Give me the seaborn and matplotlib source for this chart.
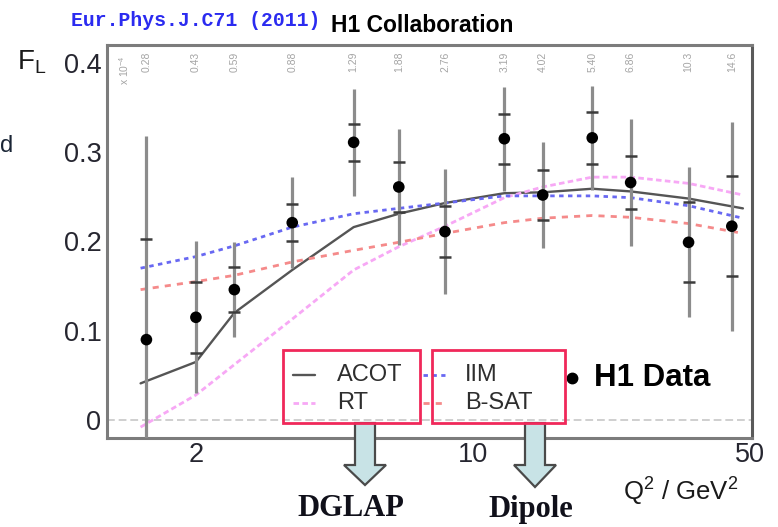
import matplotlib
matplotlib.use("Agg")
import matplotlib.pyplot as plt
import matplotlib.transforms as mtransforms
from matplotlib.patches import Rectangle, Polygon
from matplotlib.lines import Line2D
from matplotlib.ticker import FixedLocator, FixedFormatter, NullFormatter
import pandas as pd
import seaborn as sns

# ---- H1 longitudinal structure function measurement ----
q2 = [1.5, 2, 2.5, 3.5, 5, 6.5, 8.5, 12, 15, 20, 25, 35, 45]
fl = [0.090, 0.115, 0.146, 0.221, 0.311, 0.261, 0.211, 0.315, 0.252, 0.316, 0.266, 0.199, 0.217]
fl_tot = [0.228, 0.085, 0.053, 0.051, 0.060, 0.065, 0.070, 0.058, 0.059, 0.058, 0.071, 0.084, 0.117]
fl_stat = [0.113, 0.040, 0.025, 0.021, 0.021, 0.028, 0.029, 0.028, 0.028, 0.029, 0.030, 0.045, 0.056]
x_values = ["0.28", "0.43", "0.59", "0.88", "1.29", "1.88", "2.76",
            "3.19", "4.02", "5.40", "6.86", "10.3", "14.6"]

# ---- model predictions ----
model_q2 = [1.45, 2, 2.5, 3.5, 5, 6.5, 8.5, 12, 15, 20, 25, 35, 48]
acot = [0.041, 0.065, 0.120, 0.168, 0.216, 0.231, 0.243, 0.254, 0.255, 0.259, 0.256, 0.248, 0.237]
rt = [-0.008, 0.028, 0.062, 0.113, 0.168, 0.194, 0.217, 0.249, 0.261, 0.272, 0.272, 0.265, 0.252]
iim = [0.170, 0.183, 0.195, 0.216, 0.231, 0.237, 0.243, 0.251, 0.251, 0.251, 0.249, 0.240, 0.226]
bsat = [0.146, 0.155, 0.162, 0.177, 0.190, 0.199, 0.209, 0.221, 0.226, 0.229, 0.227, 0.220, 0.209]

x_ticks = [2, 10, 50]
x_minor = [3, 4, 5, 6, 7, 8, 9, 20, 30, 40]
y_ticks = [0, 0.1, 0.2, 0.3, 0.4]
y_tick_labels = ["0", "0.1", "0.2", "0.3", "0.4"]

sns.set_style("white")
plt.rcParams["font.family"] = ["Liberation Sans", "DejaVu Sans"]
plt.rcParams["mathtext.fontset"] = "custom"
plt.rcParams["mathtext.rm"] = "Liberation Sans"
plt.rcParams["mathtext.it"] = "Liberation Sans:italic"
plt.rcParams["mathtext.bf"] = "Liberation Sans:bold"

W, H = 778, 527
fig = plt.figure(figsize=(W / 100, H / 100), dpi=100)


def fx(px):
    return px / W


def fy(py):
    return 1 - py / H


ax = fig.add_axes([fx(107), fy(438), (752 - 107) / W, (438 - 45) / H])
ax.set_xscale("log")
ax.set_xlim(1.193, 50.6)
ax.set_ylim(-0.0202, 0.420)

# zero reference line
ax.axhline(0, color="#cfcfcf", lw=1.4, ls=(0, (4, 2)), zorder=1)

# model curves
models = pd.DataFrame({"q2": model_q2, "ACOT": acot, "RT": rt, "IIM": iim, "B-SAT": bsat})
styles = {
    "ACOT": dict(color="#555555", ls="-", lw=1.7),
    "RT": dict(color="#f7a8f5", ls=(0, (2, 1.2)), lw=2.0),
    "IIM": dict(color="#6868f2", ls=(0, (1.6, 1.6)), lw=2.0),
    "B-SAT": dict(color="#f58a8a", ls=(0, (2.2, 2.2)), lw=2.0),
}
for name, st in styles.items():
    sns.lineplot(data=models, x="q2", y=name, ax=ax, color=st["color"],
                 linestyle=st["ls"], linewidth=st["lw"], estimator=None,
                 sort=False, zorder=3)

# data: total error bars, statistical error ticks, points
ax.errorbar(q2, fl, yerr=fl_tot, fmt="none", ecolor="#8c8c8c", elinewidth=2.3,
            capsize=0, zorder=4)
ax.errorbar(q2, fl, yerr=fl_stat, fmt="none", ecolor="#3c3c3c", elinewidth=0,
            capsize=4.6, capthick=1.8, zorder=5)
sns.scatterplot(x=q2, y=fl, ax=ax, color="black", s=70, edgecolor="none", zorder=6)

# x values along the top of the frame
top = mtransforms.blended_transform_factory(ax.transData, ax.transAxes)
for q, lab in zip(q2, x_values):
    ax.text(q, 0.958, lab, rotation=90, ha="center", va="center",
            fontsize=7.5, color="#a4a4a4", transform=top)
ax.text(1.32, 0.935, r"x 10$^{-4}$", rotation=90, ha="center", va="center",
        fontsize=7.5, color="#a4a4a4", transform=top)

# axes styling
ax.xaxis.set_major_locator(FixedLocator(x_ticks))
ax.xaxis.set_major_formatter(FixedFormatter([str(v) for v in x_ticks]))
ax.xaxis.set_minor_locator(FixedLocator(x_minor))
ax.xaxis.set_minor_formatter(NullFormatter())
ax.yaxis.set_major_locator(FixedLocator(y_ticks))
ax.yaxis.set_major_formatter(FixedFormatter(y_tick_labels))
ax.yaxis.set_minor_locator(FixedLocator([i * 0.02 for i in range(0, 21)]))
ax.tick_params(axis="both", which="both", direction="in", color="#8a8a8a",
               labelcolor="#262630", labelsize=19.5)
ax.tick_params(axis="y", which="major", length=9, width=1.4, pad=4)
ax.tick_params(axis="y", which="minor", length=5, width=1.2)
ax.tick_params(axis="x", which="major", length=8, width=1.4, pad=3)
ax.tick_params(axis="x", which="minor", length=4, width=1.2)
ax.set_xlabel("")
ax.set_ylabel("")
for side, sp in ax.spines.items():
    sp.set_visible(True)
    sp.set_linewidth(2.2)
    sp.set_color("#7c7c7c")
ax.spines["right"].set_color("#5a5a5a")

# headings and axis titles
fig.text(fx(71), fy(20), "Eur.Phys.J.C71 (2011)", family=["Liberation Mono", "DejaVu Sans Mono"],
         fontsize=14.2, fontweight="bold", color="#2b2bf0", ha="left", va="center")
fig.text(fx(331), fy(26), "H1 Collaboration", fontsize=16.5, fontweight="bold",
         color="black", ha="left", va="center")
fig.text(fx(17), fy(62), r"F$_\mathregular{L}$", fontsize=20, color="#1a1a1a",
         ha="left", va="center")
fig.text(fx(0), fy(146), "d", fontsize=17, color="#1a2535", ha="left", va="center")
fig.text(fx(623), fy(492), r"Q$^\mathregular{2}$ / GeV$^\mathregular{2}$", fontsize=18.5,
         color="#1a1a1a", ha="left", va="center")

# legend boxes
box_col = "#f0285a"
for x0, x1 in [(283, 420), (432, 565)]:
    fig.patches.append(Rectangle((fx(x0), fy(423)), fx(x1) - fx(x0), fy(350) - fy(423),
                                 transform=fig.transFigure, fill=False,
                                 edgecolor=box_col, lw=2.0, zorder=10))

legend_rows = [("ACOT", 293, 337, 375), ("RT", 293, 337, 403),
               ("IIM", 423, 465, 375), ("B-SAT", 423, 465, 403)]
for name, lx, tx, ly in legend_rows:
    st = styles[name]
    fig.lines.append(Line2D([fx(lx), fx(lx + 22)], [fy(ly), fy(ly)], transform=fig.transFigure,
                            color=st["color"], linestyle=st["ls"], linewidth=st["lw"]))
    fig.text(fx(tx), fy(ly), name, fontsize=17, color="#2e2e2e", ha="left", va="center")

fig.lines.append(Line2D([fx(572)], [fy(378)], transform=fig.transFigure, marker="o",
                        markersize=7.5, color="black", linestyle="none"))
fig.text(fx(594), fy(378), "H1 Data", fontsize=22.5, fontweight="bold", color="black",
         ha="left", va="center")

# arrows pointing to the model classes
for cx, tip, label in [(365, 485, "DGLAP"), (535, 487, "Dipole")]:
    pts = [(cx - 10, 423), (cx + 10, 423), (cx + 10, 465), (cx + 21, 465), (cx, tip),
           (cx - 21, 465), (cx - 10, 465)]
    fig.patches.append(Polygon([(fx(a), fy(b)) for a, b in pts], closed=True,
                               transform=fig.transFigure, facecolor="#c8e3e6",
                               edgecolor="#4a4a4a", lw=1.6, zorder=9))
    fig.text(fx(cx - 14 if label == "DGLAP" else cx - 4), fy(509), label,
             family=["Liberation Serif", "DejaVu Serif"], fontsize=22, fontweight="bold",
             color="#10101a", ha="center", va="center")

fig.savefig("out.png", dpi=100)
